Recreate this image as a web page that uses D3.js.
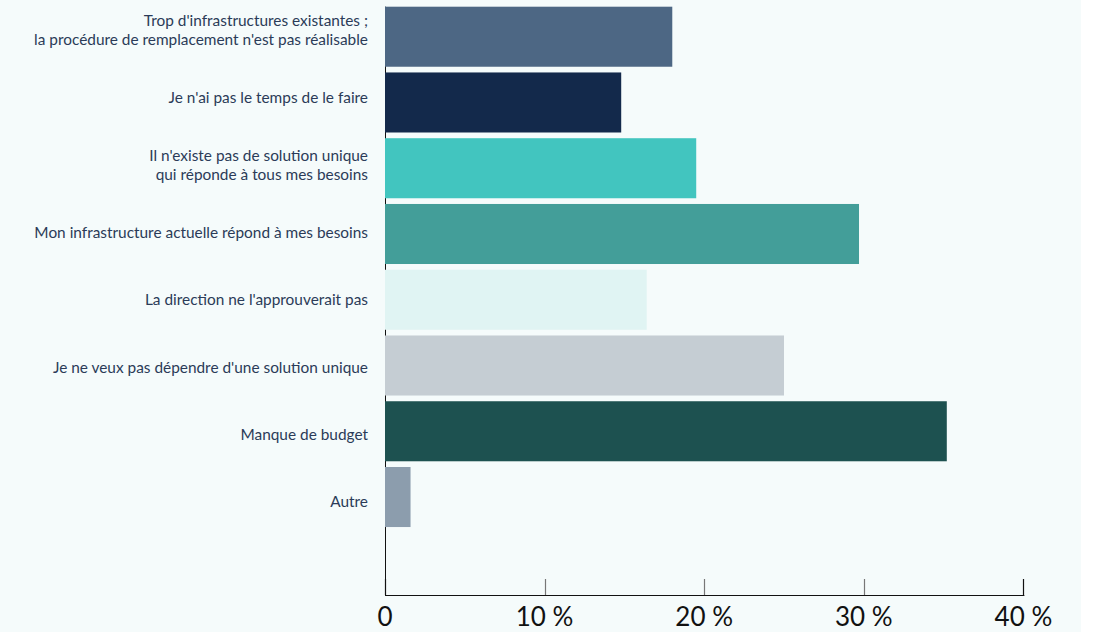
<!DOCTYPE html>
<html lang="fr">
<head>
<meta charset="utf-8">
<script src="https://cdn.jsdelivr.net/npm/d3@7"></script>
<style>
  html, body { margin: 0; padding: 0; background: #ffffff; }
  svg { display: block; }
</style>
</head>
<body>
<svg id="chart" width="1094" height="632"></svg>
<script>
// Raisons invoquées (une ligne par retour à la ligne du libellé)
const categories = [
  ["Trop d'infrastructures existantes ;", "la procédure de remplacement n'est pas réalisable"],
  ["Je n'ai pas le temps de le faire"],
  ["Il n'existe pas de solution unique", "qui réponde à tous mes besoins"],
  ["Mon infrastructure actuelle répond à mes besoins"],
  ["La direction ne l'approuverait pas"],
  ["Je ne veux pas dépendre d'une solution unique"],
  ["Manque de budget"],
  ["Autre"]
];
// Part des répondants, en %
const values = [18.0, 14.8, 19.5, 29.7, 16.4, 25.0, 35.2, 1.6];
const colors = ["#4d6784", "#13294b", "#42c5bf", "#439e99", "#e0f4f3", "#c5cdd3", "#1d5150", "#8c9dad"];
const xTicks = [0, 10, 20, 30, 40];

const W = 1094, H = 632;
const svg = d3.select("#chart");
const keys = categories.map(c => c.join(" "));
const rows = keys.map((k, i) => ({ key: k, lines: categories[i], value: values[i], color: colors[i] }));

// fond du graphique
svg.append("rect").attr("x", 0).attr("y", 0).attr("width", 1081).attr("height", H).attr("fill", "#f5fbfb");

const x = d3.scaleLinear().domain([0, 40]).range([385, 1023.4]);
const y = d3.scaleBand().domain(keys).range([3.84, 529.9]).paddingInner(0.087).paddingOuter(0.0435);
const yLabel = d3.scalePoint().domain(keys).range([30.5, 502]);
const baseY = 595;

// axe vertical
svg.append("line")
  .attr("x1", x(0) + 0.5).attr("x2", x(0) + 0.5)
  .attr("y1", y(keys[0])).attr("y2", baseY)
  .attr("stroke", "#111").attr("stroke-width", 1);

// barres
svg.append("g").selectAll("rect").data(rows).join("rect")
  .attr("x", x(0))
  .attr("y", d => y(d.key))
  .attr("width", d => x(d.value) - x(0))
  .attr("height", y.bandwidth())
  .attr("fill", d => d.color);

// libellés des catégories
const lineH = 19;
const labels = svg.append("g")
  .attr("font-family", "Lato, 'Open Sans', sans-serif")
  .attr("font-size", 15.4)
  .attr("fill", "#2b3b58")
  .attr("text-anchor", "end");
labels.selectAll("text").data(rows).join("text")
  .attr("x", 368)
  .attr("y", d => yLabel(d.key) - (d.lines.length - 1) * lineH / 2 + 5.4)
  .each(function (d) {
    d3.select(this).selectAll("tspan").data(d.lines).join("tspan")
      .attr("x", 368)
      .attr("dy", (l, i) => i === 0 ? 0 : lineH)
      .text(l => l);
  });

// axe horizontal : ticks vers le haut, valeurs en dessous
const ax = svg.append("g").attr("transform", `translate(0,${baseY})`);
ax.selectAll("line.tick").data(xTicks).join("line")
  .attr("class", "tick")
  .attr("x1", d => Math.round(x(d)) + 0.5).attr("x2", d => Math.round(x(d)) + 0.5)
  .attr("y1", 0).attr("y2", -16)
  .attr("stroke", (d, i) => (i === 0 || i === xTicks.length - 1) ? "#111" : "#777")
  .attr("stroke-width", 1.2);
ax.append("line")
  .attr("x1", x(0)).attr("x2", x(40) + 1)
  .attr("y1", 0.5).attr("y2", 0.5)
  .attr("stroke", "#111").attr("stroke-width", 1.2);
ax.selectAll("text").data(xTicks).join("text")
  .attr("x", d => x(d))
  .attr("y", 31)
  .attr("text-anchor", "middle")
  .attr("font-family", "Lato, 'Open Sans', sans-serif")
  .attr("font-size", 26)
  .attr("fill", "#111")
  .text(d => d === 0 ? "0" : d + "\u00a0%");
</script>
</body>
</html>
